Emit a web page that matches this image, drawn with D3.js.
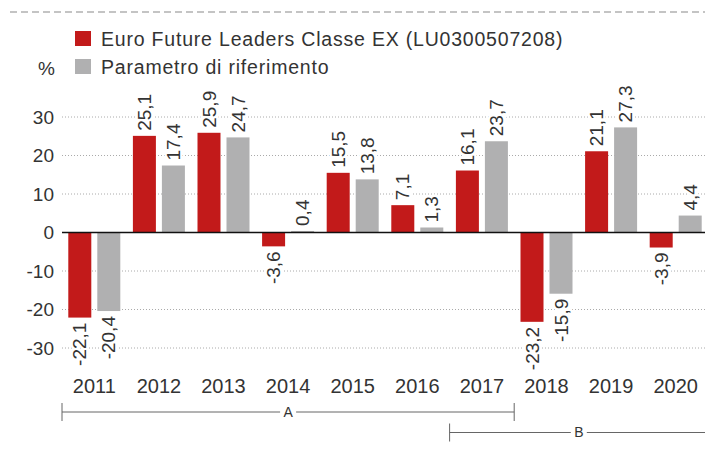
<!DOCTYPE html>
<html>
<head>
<meta charset="utf-8">
<script src="https://cdn.jsdelivr.net/npm/d3@7"></script>
<style>
  body { margin: 0; background: #fff; }
  text { font-family: "Liberation Sans", Arial, Helvetica, sans-serif; fill: #333; }
</style>
</head>
<body>
<svg width="705" height="449"></svg>
<script>
var years = ['2011','2012','2013','2014','2015','2016','2017','2018','2019','2020'];
var fund = [-22.1, 25.1, 25.9, -3.6, 15.5, 7.1, 16.1, -23.2, 21.1, -3.9];
var bench = [-20.4, 17.4, 24.7, 0.4, 13.8, 1.3, 23.7, -15.9, 27.3, 4.4];
var seriesNames = ['Euro Future Leaders Classe EX (LU0300507208)', 'Parametro di riferimento'];
var yTicks = [-30, -20, -10, 0, 10, 20, 30];
var periods = [
  { label: 'A', from: '2011', to: '2017', row: 0, closed: true },
  { label: 'B', from: '2017', to: '2020', row: 1, closed: false }
];

var colors = ['#c21a1a', '#b0b0b1'];

var svg = d3.select('svg');

// top dashed rule
svg.append('line')
  .attr('x1', 10).attr('x2', 705)
  .attr('y1', 12).attr('y2', 12)
  .attr('stroke', '#c4c4c4')
  .attr('stroke-width', 2)
  .attr('stroke-dasharray', '7,4');

var x0 = d3.scaleBand()
  .domain(years)
  .range([62, 708])
  .paddingInner(0.195)
  .paddingOuter(0.0975);

var x1 = d3.scaleBand()
  .domain([0, 1])
  .range([0, x0.bandwidth()])
  .paddingInner(0.207);

var y = d3.scaleLinear()
  .domain([-30, 30])
  .range([348, 117]);

// grid
svg.append('g').selectAll('line')
  .data(yTicks.filter(function(d){ return d !== 0; }))
  .join('line')
  .attr('x1', 62).attr('x2', 708)
  .attr('y1', function(d){ return y(d); })
  .attr('y2', function(d){ return y(d); })
  .attr('stroke', '#aaa')
  .attr('stroke-width', 1)
  .attr('stroke-dasharray', '1,2');

// y labels
svg.append('g').selectAll('text')
  .data(yTicks)
  .join('text')
  .attr('x', 54)
  .attr('y', function(d){ return y(d); })
  .attr('dy', '0.35em')
  .attr('text-anchor', 'end')
  .style('font-size', '19px')
  .text(function(d){ return d; });

svg.append('text')
  .attr('x', 55).attr('y', 75)
  .attr('text-anchor', 'end')
  .style('font-size', '19px')
  .text('%');

// bars
var rows = years.map(function(yr, i){ return { year: yr, vals: [fund[i], bench[i]] }; });

var groups = svg.append('g').selectAll('g')
  .data(rows)
  .join('g')
  .attr('transform', function(d){ return 'translate(' + x0(d.year) + ',0)'; });

groups.selectAll('rect')
  .data(function(d){ return d.vals.map(function(v, k){ return { k: k, v: v }; }); })
  .join('rect')
  .attr('x', function(d){ return x1(d.k); })
  .attr('width', x1.bandwidth())
  .attr('y', function(d){ return y(Math.max(0, d.v)); })
  .attr('height', function(d){ return Math.abs(y(d.v) - y(0)); })
  .attr('fill', function(d){ return colors[d.k]; });

// zero line
svg.append('line')
  .attr('x1', 62).attr('x2', 708)
  .attr('y1', y(0)).attr('y2', y(0))
  .attr('stroke', '#111')
  .attr('stroke-width', 1.5);

// value labels
var fmt = function(v){ return d3.format('.1f')(v).replace('.', ',').replace('−', '-'); };
groups.selectAll('text')
  .data(function(d){ return d.vals.map(function(v, k){ return { k: k, v: v }; }); })
  .join('text')
  .attr('transform', function(d){
    var cx = x1(d.k) + x1.bandwidth() / 2;
    var cy = d.v >= 0 ? y(d.v) - 5 : y(d.v) + 5;
    return 'translate(' + cx + ',' + cy + ') rotate(-90)';
  })
  .attr('text-anchor', function(d){ return d.v >= 0 ? 'start' : 'end'; })
  .attr('dy', '0.35em')
  .style('font-size', '19px')
  .style('stroke', '#fff')
  .style('stroke-width', 5)
  .style('paint-order', 'stroke')
  .text(function(d){ return fmt(d.v); });

// year labels
svg.append('g').selectAll('text')
  .data(years)
  .join('text')
  .attr('x', function(d){ return x0(d) + x0.bandwidth() / 2; })
  .attr('y', 393)
  .attr('text-anchor', 'middle')
  .style('font-size', '20px')
  .text(function(d){ return d; });

// legend
var legend = svg.append('g').selectAll('g')
  .data(seriesNames)
  .join('g')
  .attr('transform', function(d, i){ return 'translate(75,' + (31 + i * 28) + ')'; });

legend.append('rect')
  .attr('width', 16).attr('height', 15)
  .attr('fill', function(d, i){ return colors[i]; });

legend.append('text')
  .attr('x', 26).attr('y', 15)
  .style('font-size', '19.5px')
  .style('letter-spacing', '0.8px')
  .text(function(d){ return d; });

// period brackets
var step = x0.step();
var edge = function(yr){ return x0(yr) - x0.paddingOuter() * step; };
periods.forEach(function(p){
  var yy = 412 + p.row * 20.5;
  var a = edge(p.from);
  var b = edge(p.to) + step;
  if (p.label === 'B') a = edge(p.from);
  var mid = (a + b) / 2;
  var g = svg.append('g').attr('stroke', '#666').attr('stroke-width', 1);
  g.append('line').attr('x1', a).attr('x2', mid - 8).attr('y1', yy).attr('y2', yy);
  g.append('line').attr('x1', mid + 8).attr('x2', b).attr('y1', yy).attr('y2', yy);
  g.append('line').attr('x1', a).attr('x2', a).attr('y1', yy - 9).attr('y2', yy + 9);
  if (p.closed) {
    g.append('line').attr('x1', b).attr('x2', b).attr('y1', yy - 9).attr('y2', yy + 9);
  }
  svg.append('text').attr('x', mid).attr('y', yy).attr('dy', '0.35em')
    .attr('text-anchor', 'middle')
    .style('font-size', '14px')
    .text(p.label);
});
</script>
</body>
</html>
